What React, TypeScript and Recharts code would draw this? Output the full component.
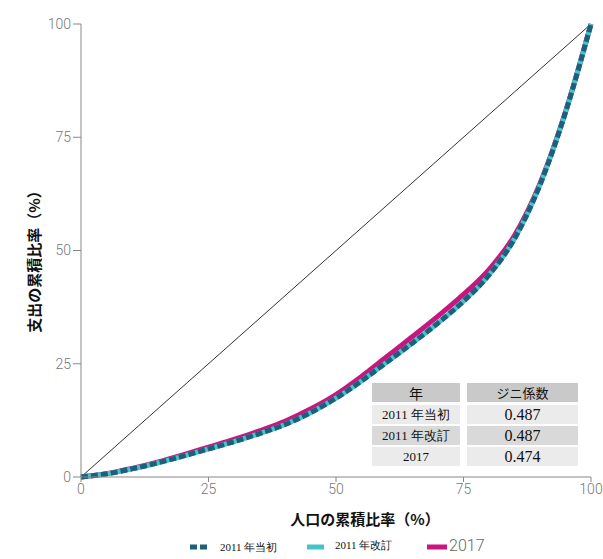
import React from "react";
import { LineChart, Line, XAxis, YAxis } from "recharts";

// Lorenz curves: cumulative population share (%) vs cumulative expenditure share (%)
const POP = [0, 5, 10, 15, 20, 25, 30, 35, 40, 45, 50, 55, 60, 65, 70, 75, 80, 85, 90, 95, 100];
const Y2011_INITIAL = [0, 0.7, 1.8, 3.1, 4.6, 6.2, 7.8, 9.6, 11.6, 14.2, 17.4, 21.2, 25.4, 29.6, 34.0, 38.8, 44.6, 52.6, 64.5, 80.5, 100];
const Y2011_REVISED = [0, 0.7, 1.8, 3.1, 4.6, 6.2, 7.8, 9.6, 11.6, 14.2, 17.4, 21.2, 25.4, 29.6, 34.0, 38.8, 44.6, 52.6, 64.5, 80.5, 100];
const Y2017 = [0, 0.7, 1.9, 3.3, 4.9, 6.6, 8.3, 10.2, 12.3, 15.0, 18.2, 22.2, 26.6, 31.0, 35.5, 40.3, 45.8, 53.3, 64.8, 80.6, 100];
const EQUALITY = [0, 100];
const TICKS = [0, 25, 50, 75, 100];

const TABLE_HEAD = ["年", "ジニ係数"];
const TABLE_YEARS = ["2011 年当初", "2011 年改訂", "2017"];
const TABLE_GINI = ["0.487", "0.487", "0.474"];

const toPoints = (ys: number[]) => POP.map((x, i) => ({ x, y: ys[i] }));

const C_INITIAL = "#1d5f7c";
const C_REVISED = "#45c3c8";
const C_2017 = "#c8157f";

const tickStyle = { fill: "#777", fontSize: 14, fontFamily: "Roboto", fontWeight: 300 };
const serif = "'Liberation Serif', 'DejaVu Serif', serif";

export default function App() {
  const cellBase: React.CSSProperties = {
    position: "absolute",
    display: "flex",
    alignItems: "center",
    justifyContent: "center",
    color: "#111",
  };
  const rowTops = [405, 426, 447];
  const rowBg = ["#ebebeb", "#d9d9d9", "#ebebeb"];

  return (
    <div style={{ position: "absolute", left: 0, top: 0, width: 603, height: 559, background: "#fff", fontFamily: "'Noto Sans CJK JP', sans-serif" }}>
      <LineChart width={603} height={559} margin={{ top: 24, right: 12, left: 0, bottom: 52 }}>
        <XAxis
          type="number"
          dataKey="x"
          domain={[0, 100]}
          ticks={TICKS}
          tickSize={5}
          tick={tickStyle}
          stroke="#888"
          height={30}
          allowDuplicatedCategory={false}
        />
        <YAxis
          type="number"
          dataKey="y"
          domain={[0, 100]}
          ticks={TICKS}
          tickSize={8}
          tick={tickStyle}
          stroke="#888"
          width={81}
        />
        <Line
          data={EQUALITY.map((v) => ({ x: v, y: v }))}
          dataKey="y"
          stroke="#333"
          strokeWidth={1}
          dot={false}
          isAnimationActive={false}
        />
        <Line
          data={toPoints(Y2017)}
          dataKey="y"
          type="monotone"
          stroke={C_2017}
          strokeWidth={5}
          dot={false}
          isAnimationActive={false}
        />
        <Line
          data={toPoints(Y2011_REVISED)}
          dataKey="y"
          type="monotone"
          stroke={C_REVISED}
          strokeWidth={5}
          dot={false}
          isAnimationActive={false}
        />
        <Line
          data={toPoints(Y2011_INITIAL)}
          dataKey="y"
          type="monotone"
          stroke={C_INITIAL}
          strokeWidth={5}
          strokeDasharray="7 3"
          dot={false}
          isAnimationActive={false}
        />
      </LineChart>

      {/* axis titles */}
      <div
        style={{
          position: "absolute",
          left: 33,
          top: 258,
          transform: "translate(-50%, -50%) rotate(-90deg)",
          whiteSpace: "nowrap",
          fontSize: 15,
          fontWeight: 700,
          color: "#111",
        }}
      >
        支出の累積比率（%）
      </div>
      <div
        style={{
          position: "absolute",
          left: 365,
          top: 518,
          transform: "translate(-50%, -50%)",
          whiteSpace: "nowrap",
          fontSize: 15,
          fontWeight: 700,
          color: "#111",
        }}
      >
        人口の累積比率（%）
      </div>

      {/* Gini table */}
      <div style={{ ...cellBase, left: 372, top: 383, width: 88, height: 19, background: "#c9c9c9", fontSize: 14 }}>{TABLE_HEAD[0]}</div>
      <div style={{ ...cellBase, left: 467, top: 383, width: 111, height: 19, background: "#c9c9c9", fontSize: 13 }}>{TABLE_HEAD[1]}</div>
      {TABLE_YEARS.map((y, i) => (
        <React.Fragment key={y}>
          <div style={{ ...cellBase, left: 372, top: rowTops[i], width: 88, height: 19, background: rowBg[i], fontSize: 13, fontFamily: serif }}>{y}</div>
          <div style={{ ...cellBase, left: 467, top: rowTops[i], width: 111, height: 19, background: rowBg[i], fontSize: 16, fontFamily: serif }}>{TABLE_GINI[i]}</div>
        </React.Fragment>
      ))}

      {/* legend */}
      <svg style={{ position: "absolute", left: 0, top: 538 }} width={603} height={20}>
        <line x1={190} x2={207} y1={9} y2={9} stroke={C_INITIAL} strokeWidth={5} strokeDasharray="7 3" />
        <line x1={307} x2={324} y1={9} y2={9} stroke={C_REVISED} strokeWidth={5} />
        <line x1={427} x2={447} y1={9} y2={9} stroke={C_2017} strokeWidth={5} />
      </svg>
      <div style={{ position: "absolute", left: 220, top: 540, fontSize: 11, fontFamily: serif, color: "#111", whiteSpace: "nowrap" }}>2011 年当初</div>
      <div style={{ position: "absolute", left: 335, top: 538, fontSize: 11, fontFamily: serif, color: "#111", whiteSpace: "nowrap" }}>2011 年改訂</div>
      <div style={{ position: "absolute", left: 449, top: 536, fontSize: 16, fontFamily: "Roboto", fontWeight: 300, color: "#666", whiteSpace: "nowrap" }}>2017</div>
    </div>
  );
}
